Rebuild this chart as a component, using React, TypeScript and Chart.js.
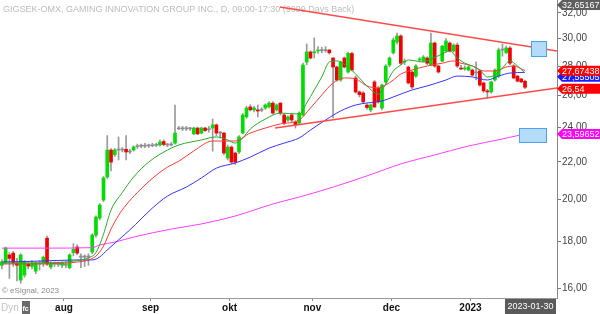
import React, { useEffect, useRef } from 'react';
import { Chart, registerables } from 'chart.js';

Chart.register(...registerables);

const FONT = '"Liberation Sans", Arial, Helvetica, sans-serif';

const titleText = 'GIGSEK-OMX, GAMING INNOVATION GROUP INC., D, 09:00-17:30 (9999 Days Back)';
const copyrightText = '\u00A9 eSignal, 2023';
const lastDateText = '2023-01-30';

const monthLabels = ['aug', 'sep', 'okt', 'nov', 'dec', '2023'];
const monthStartBar = [17, 40, 61, 83, 104, 125];
const yTickValues = [16, 18, 20, 22, 24, 26, 28, 30, 32];
const totalSlots = 148;
const yMin = 15.61;
const yMax = 33.065;

const open = [
  16.95, 17.09, 17.4, 17.48, 17.05, 16.33, 16.54, 17.0, 16.9, 16.7,
  17.05, 17.05, 18.15, 16.88, 17.0, 17.02, 16.95, 17.0, 16.85, 17.5,
  17.75, 17.35, 17.3, 17.35, 17.53, 18.29, 19.09, 19.98, 21.17, 22.66,
  22.4, 22.66, 22.7, 22.7, 22.55, 22.66, 22.85, 22.9, 22.88, 22.92,
  22.9, 22.95, 22.95, 23.15, 22.98, 22.95, 23.06, 23.9, 23.95, 23.9,
  23.95, 23.6, 23.95, 23.65, 23.95, 23.85, 23.95, 24.14, 23.65, 23.65,
  22.21, 22.83, 22.49, 22.55, 23.65, 24.63, 25.26, 25.07, 25.07, 25.05,
  25.19, 25.26, 25.5, 25.07, 25.5, 24.75, 24.44, 24.75, 24.32, 24.26,
  24.75, 28.28, 29.01, 28.95, 29.08, 29.15, 29.1, 29.15, 28.57, 27.93,
  27.03, 28.57, 27.58, 28.9, 27.17, 26.23, 26.16, 25.38, 25.07, 26.9,
  26.49, 25.19, 26.9, 28.07, 28.95, 29.74, 30.2, 28.28, 27.93, 27.58,
  27.3, 28.43, 28.35, 28.57, 28.07, 29.67, 28.0, 28.35, 29.08, 29.67,
  29.08, 29.52, 27.86, 27.79, 27.72, 27.72, 27.52, 27.65, 26.83, 26.3,
  26.23, 27.03, 27.3, 29.15, 28.95, 29.3, 28.0, 27.3, 27.1, 26.95,
];
const high = [
  17.2, 17.75, 17.5, 17.55, 17.25, 17.45, 17.15, 17.1, 17.15, 17.1,
  17.15, 17.35, 18.25, 17.1, 17.1, 17.1, 17.1, 17.1, 17.45, 17.9,
  17.85, 17.45, 17.4, 17.45, 18.35, 19.2, 19.8, 21.2, 23.5, 22.75,
  22.75, 23.42, 22.8, 23.5, 22.7, 22.9, 23.0, 23.0, 23.05, 23.0,
  23.05, 23.05, 23.25, 23.25, 23.05, 23.1, 25.38, 24.05, 24.05, 24.05,
  24.0, 24.0, 24.0, 24.0, 24.0, 24.05, 24.5, 24.2, 23.75, 23.7,
  22.95, 22.9, 22.55, 23.5, 24.85, 25.3, 25.4, 25.3, 25.38, 25.2,
  25.45, 25.6, 25.6, 25.45, 25.55, 24.85, 24.7, 24.8, 24.4, 24.95,
  28.2, 29.6, 29.1, 30.05, 29.4, 29.35, 29.4, 29.2, 28.6, 28.0,
  28.35, 28.65, 29.0, 29.0, 27.3, 26.3, 26.25, 25.45, 25.45, 27.0,
  26.6, 26.76, 28.1, 28.65, 30.05, 30.43, 30.3, 28.5, 28.0, 27.65,
  28.1, 28.6, 28.75, 28.65, 30.43, 29.75, 28.05, 29.5, 30.0, 29.75,
  29.6, 29.67, 28.05, 28.0, 28.0, 27.8, 28.3, 27.75, 26.9, 26.4,
  26.95, 27.8, 29.3, 29.6, 29.45, 29.4, 28.1, 27.35, 27.15, 27.0,
];
const low = [
  16.8, 17.0, 16.4, 16.9, 16.3, 16.2, 16.45, 16.8, 16.8, 16.6,
  16.75, 16.9, 16.95, 16.8, 16.9, 16.9, 16.85, 16.85, 16.8, 17.35,
  17.4, 16.85, 16.9, 16.95, 17.45, 18.2, 19.0, 19.9, 21.1, 21.5,
  22.3, 22.1, 22.55, 22.1, 22.45, 22.6, 22.75, 22.8, 22.8, 22.8,
  22.85, 22.85, 22.9, 22.9, 22.85, 22.9, 23.0, 23.85, 23.8, 23.8,
  23.8, 23.55, 23.55, 23.6, 23.75, 23.7, 22.6, 23.5, 23.35, 22.4,
  22.1, 21.9, 21.85, 22.45, 23.6, 24.55, 25.0, 24.95, 24.63, 24.95,
  25.1, 25.2, 24.8, 25.0, 24.75, 24.15, 24.35, 24.3, 23.95, 24.2,
  24.7, 28.07, 28.5, 28.57, 28.9, 28.95, 29.0, 28.85, 24.57, 26.95,
  26.95, 27.85, 27.5, 27.65, 26.15, 25.9, 25.5, 25.1, 24.95, 25.2,
  25.5, 25.07, 26.8, 27.95, 28.85, 29.6, 28.1, 28.1, 26.76, 26.45,
  27.2, 28.3, 28.3, 28.1, 28.0, 27.9, 27.5, 28.3, 29.0, 29.0,
  29.0, 27.9, 27.75, 27.7, 27.65, 27.3, 27.03, 26.6, 26.2, 25.83,
  26.15, 26.95, 27.2, 28.7, 28.9, 28.1, 27.1, 26.9, 26.85, 26.45,
];
const close = [
  17.1, 17.7, 17.25, 17.05, 16.95, 17.4, 17.09, 16.92, 17.05, 17.05,
  17.0, 17.3, 17.0, 17.05, 17.02, 16.98, 17.05, 16.95, 17.4, 17.65,
  17.48, 17.3, 17.35, 17.3, 18.29, 19.14, 19.73, 21.12, 22.66, 21.98,
  22.66, 22.7, 22.66, 22.55, 22.58, 22.83, 22.9, 22.88, 22.92, 22.9,
  22.95, 22.93, 23.12, 22.98, 22.95, 23.0, 23.65, 23.95, 23.9, 23.95,
  23.9, 23.95, 23.6, 23.95, 23.8, 23.9, 24.14, 23.65, 23.7, 22.49,
  22.83, 21.98, 21.98, 23.42, 24.75, 25.19, 25.07, 25.19, 25.0, 25.08,
  25.38, 25.5, 24.87, 25.38, 24.87, 24.26, 24.63, 24.44, 24.14, 24.87,
  28.07, 29.01, 28.57, 29.01, 29.15, 29.1, 29.15, 28.95, 27.93, 27.03,
  28.28, 27.93, 28.9, 27.72, 26.23, 26.05, 25.58, 25.22, 25.38, 25.26,
  25.58, 26.69, 28.0, 28.57, 29.9, 30.2, 28.2, 28.35, 26.83, 26.56,
  28.0, 28.5, 28.64, 28.2, 29.67, 28.0, 27.58, 29.44, 29.82, 29.08,
  29.52, 28.0, 27.79, 27.86, 27.93, 27.37, 27.56, 26.69, 26.3, 26.23,
  26.9, 27.72, 29.15, 29.2, 29.3, 28.2, 27.17, 26.95, 26.9, 26.54,
];

const ma10Bars = [0, 10, 20, 23, 25, 27, 29, 32, 35, 39, 44, 47, 53, 57, 60, 62, 64, 66, 70, 74, 79, 81, 83, 85, 87, 89, 92, 94, 97, 100, 102, 104, 106, 108, 110, 112, 114, 117, 119, 121, 123, 125, 127, 129, 131, 133, 135, 137, 139];
const ma10 = [17.05, 17.05, 17.15, 17.27, 17.5, 18.33, 19.48, 20.36, 21.17, 21.98, 22.66, 22.95, 23.24, 23.42, 23.24, 23.06, 23.36, 23.89, 24.5, 24.87, 24.81, 25.51, 26.36, 27.24, 28.28, 28.36, 27.93, 27.44, 26.63, 26.09, 26.76, 27.65, 28.07, 28.43, 28.36, 28.28, 28.5, 28.86, 29.08, 28.57, 28.2, 28.0, 27.72, 27.24, 27.37, 27.86, 28.36, 28.0, 27.51];

const ma20Bars = [0, 10, 20, 23, 25, 27, 29, 31, 33, 36, 40, 44, 47, 51, 56, 59, 62, 66, 70, 74, 79, 82, 85, 88, 91, 94, 97, 100, 102, 104, 106, 109, 113, 117, 120, 122, 125, 128, 131, 134, 136, 139];
const ma20 = [17.01, 17.01, 17.09, 17.18, 17.35, 17.79, 18.57, 19.22, 19.73, 20.36, 21.1, 21.71, 22.03, 22.61, 23.18, 23.18, 23.18, 23.65, 23.95, 24.2, 24.44, 25.19, 26.03, 26.83, 27.17, 27.1, 26.63, 26.49, 26.69, 27.03, 27.44, 27.72, 28.0, 28.2, 28.36, 28.2, 28.0, 27.65, 27.65, 27.93, 28.0, 27.67438];

const ma50Bars = [0, 10, 20, 24, 26, 28, 31, 34, 37, 40, 44, 49, 53, 57, 62, 66, 71, 75, 79, 82, 86, 90, 94, 97, 101, 104, 109, 113, 118, 121, 125, 129, 132, 135, 139];
const ma50 = [17.09, 17.13, 17.18, 17.18, 17.31, 17.62, 18.07, 18.53, 19.05, 19.58, 20.18, 20.64, 21.12, 21.65, 21.93, 22.26, 22.77, 23.06, 23.36, 23.83, 24.44, 25.0, 25.38, 25.51, 25.64, 25.9, 26.36, 26.63, 27.03, 27.3, 27.24, 27.03, 27.3, 27.51, 27.55505];

const ma200Bars = [0, 12, 24, 26, 30, 35, 45, 53, 62, 72, 79, 88, 97, 106, 115, 124, 133, 139];
const ma200 = [17.7, 17.7, 17.72, 17.84, 17.97, 18.2, 18.57, 18.81, 19.19, 19.78, 20.13, 20.64, 21.23, 21.88, 22.38, 22.89, 23.3, 23.59652];

const upperTrendBars = [73.9, 147.5];
const upperTrend = [32.49, 29.08];
const lowerTrendBars = [72.6, 147.5];
const lowerTrend = [23.95, 26.49];

const upperBoxBars = [140.6, 144.6];
const upperBoxPrices = [29.82, 28.72];
const lowerBoxBars = [137.4, 144.6];
const lowerBoxPrices = [23.95, 23.12];

const highTagValue = 32.65167;

const fmt = (v: number) => String(v).replace('.', ',');

const overlayPlugin = {
  id: 'overlay',
  beforeDatasetsDraw(chart: any) {
    const ctx = chart.ctx;
    ctx.save();
    ctx.textBaseline = 'middle';
    ctx.textAlign = 'left';
    ctx.font = `9px ${FONT}`;
    ctx.fillStyle = '#bcbcbc';
    ctx.fillText(titleText, 3, 10);
    ctx.font = `8px ${FONT}`;
    ctx.fillStyle = '#8a8a8a';
    ctx.fillText(copyrightText, 2, 291);
    ctx.restore();
  },
  afterDatasetsDraw(chart: any) {
    const ctx = chart.ctx;
    const xs = chart.scales.x;
    const ys = chart.scales.y;
    const box = (bars: number[], prices: number[]) => {
      const x0 = Math.round(xs.getPixelForValue(bars[0])) + 0.5;
      const x1 = Math.round(xs.getPixelForValue(bars[1])) + 0.5;
      const y0 = Math.round(ys.getPixelForValue(prices[0])) + 0.5;
      const y1 = Math.round(ys.getPixelForValue(prices[1])) + 0.5;
      ctx.fillStyle = '#b3dcfa';
      ctx.fillRect(x0, y0, x1 - x0, y1 - y0);
      ctx.strokeStyle = '#4fa3ee';
      ctx.lineWidth = 1;
      ctx.strokeRect(x0, y0, x1 - x0, y1 - y0);
    };
    ctx.save();
    box(upperBoxBars, upperBoxPrices);
    box(lowerBoxBars, lowerBoxPrices);
    ctx.restore();
  },
  afterDraw(chart: any) {
    const ctx = chart.ctx;
    const ys = chart.scales.y;
    const area = chart.chartArea;
    const xa = area.right;
    const W = chart.width;
    const tag = (y: number, text: string, bg: string) => {
      ctx.fillStyle = bg;
      ctx.beginPath();
      ctx.moveTo(xa, y);
      ctx.lineTo(xa + 5, y - 5);
      ctx.lineTo(W, y - 5);
      ctx.lineTo(W, y + 5);
      ctx.lineTo(xa + 5, y + 5);
      ctx.closePath();
      ctx.fill();
      ctx.fillStyle = '#ffffff';
      ctx.font = `9px ${FONT}`;
      ctx.textBaseline = 'middle';
      ctx.textAlign = 'left';
      ctx.fillText(text, xa + 5, y + 0.5);
    };
    ctx.save();
    const lastMa20 = ma20[ma20.length - 1];
    const lastMa50 = ma50[ma50.length - 1];
    const lastMa200 = ma200[ma200.length - 1];
    const lastClose = close[close.length - 1];
    const yRed = ys.getPixelForValue(lastMa20);
    const yBlue = Math.max(ys.getPixelForValue(lastMa50), yRed + 6);
    tag(ys.getPixelForValue(highTagValue), fmt(highTagValue), '#5e5e5e');
    tag(yBlue, fmt(lastMa50), '#1c1cff');
    tag(yRed, fmt(lastMa20), '#ff0000');
    tag(ys.getPixelForValue(lastClose) + 1.5, fmt(lastClose), '#ff0000');
    tag(ys.getPixelForValue(lastMa200), fmt(lastMa200), '#ff00ff');

    ctx.font = `9px ${FONT}`;
    const tw = ctx.measureText(lastDateText).width;
    const bx1 = xa - 1;
    const bx0 = bx1 - tw - 5;
    ctx.fillStyle = '#5a5a5a';
    ctx.fillRect(bx0, area.bottom + 1, bx1 - bx0, chart.height - area.bottom - 1);
    ctx.fillStyle = '#ffffff';
    ctx.textBaseline = 'middle';
    ctx.textAlign = 'center';
    ctx.fillText(lastDateText, (bx0 + bx1) / 2, area.bottom + 9);

    ctx.textAlign = 'left';
    ctx.font = `10px ${FONT}`;
    ctx.fillStyle = '#c4c4c4';
    ctx.fillText('Dyn', 1, 308);
    ctx.fillStyle = '#6a6a6a';
    ctx.fillRect(22, 301, 8, 13);
    ctx.fillStyle = '#ffffff';
    ctx.font = `bold 7px ${FONT}`;
    ctx.fillText('fc', 22.5, 309);
    ctx.restore();
  },
};

export default function App() {
  const ref = useRef<HTMLCanvasElement>(null);

  useEffect(() => {
    const canvas = ref.current;
    if (!canvas) return;
    const wicks = close.map((_, i) => ({ x: i, y: [low[i], high[i]] }));
    const bodies = close.map((c, i) => ({ x: i, y: [open[i], c] }));
    const bodyColors = close.map((c, i) =>
      Math.abs(c - open[i]) < 0.06 ? '#8c8c8c' : c > open[i] ? '#00dc00' : '#f00000'
    );
    const pts = (bars: number[], vals: number[]) => bars.map((b, i) => ({ x: b, y: vals[i] }));
    const maLine = (bars: number[], vals: number[], color: string, order: number) => ({
      type: 'line' as const,
      data: pts(bars, vals),
      borderColor: color,
      borderWidth: 1,
      pointRadius: 0,
      cubicInterpolationMode: 'monotone' as const,
      fill: false,
      order,
    });
    const trendLine = (bars: number[], vals: number[]) => ({
      type: 'line' as const,
      data: pts(bars, vals),
      borderColor: '#ff4a4a',
      borderWidth: 1.4,
      pointRadius: 0,
      fill: false,
      order: 1,
    });

    const chart = new Chart(canvas, {
      type: 'bar',
      data: {
        datasets: [
          {
            type: 'bar',
            data: wicks as any,
            backgroundColor: '#9a9a9a',
            barThickness: 1,
            grouped: false,
            order: 7,
          } as any,
          {
            type: 'bar',
            data: bodies as any,
            backgroundColor: bodyColors,
            borderColor: '#6e6e6e',
            borderWidth: 0,
            barThickness: 3,
            grouped: false,
            minBarLength: 1,
            order: 6,
          } as any,
          maLine(ma200Bars, ma200, '#ff3cff', 5),
          maLine(ma50Bars, ma50, '#3434ff', 4),
          maLine(ma20Bars, ma20, '#ff3a3a', 3),
          maLine(ma10Bars, ma10, '#2aa82a', 2),
          trendLine(upperTrendBars, upperTrend),
          trendLine(lowerTrendBars, lowerTrend),
        ] as any,
      },
      options: {
        responsive: false,
        animation: false,
        events: [],
        layout: { padding: 0 },
        plugins: {
          legend: { display: false },
          tooltip: { enabled: false },
          title: { display: false },
        },
        scales: {
          x: {
            type: 'linear',
            min: -0.5,
            max: totalSlots - 0.5,
            offset: false,
            position: 'bottom',
            afterBuildTicks: (s: any) => {
              s.ticks = monthStartBar.map((b) => ({ value: b - 0.5 }));
            },
            afterFit: (s: any) => {
              s.height = 16;
              s.paddingLeft = 0;
              s.paddingRight = 0;
            },
            grid: { drawOnChartArea: false, drawTicks: true, tickLength: 3, color: '#8a8a8a', offset: false },
            border: { display: true, color: '#9a9a9a', width: 1 },
            ticks: {
              autoSkip: false,
              maxRotation: 0,
              padding: 1,
              color: '#111111',
              font: { size: 10, weight: 'bold', family: FONT },
              callback: (v: any) => {
                const k = monthStartBar.indexOf(Number(v) + 0.5);
                return k >= 0 ? monthLabels[k] : '';
              },
            },
          } as any,
          y: {
            type: 'logarithmic',
            position: 'right',
            min: yMin,
            max: yMax,
            bounds: 'data',
            afterBuildTicks: (s: any) => {
              s.ticks = yTickValues.map((v) => ({ value: v }));
            },
            afterFit: (s: any) => {
              s.width = 43;
              s.paddingTop = 0;
              s.paddingBottom = 0;
            },
            grid: { drawOnChartArea: false, drawTicks: true, tickLength: 4, color: '#777777' },
            border: { display: true, color: '#858585', width: 1 },
            ticks: {
              autoSkip: false,
              padding: 1,
              color: '#444444',
              font: { size: 10, family: FONT },
              callback: (v: any) => Number(v).toFixed(2).replace('.', ','),
            },
          } as any,
        },
      },
      plugins: [overlayPlugin],
    });
    return () => chart.destroy();
  }, []);

  return (
    <div style={{ position: 'fixed', left: 0, top: 0, width: 600, height: 314, background: '#ffffff' }}>
      <canvas ref={ref} width={600} height={314} style={{ display: 'block', width: 600, height: 314 }} />
    </div>
  );
}
